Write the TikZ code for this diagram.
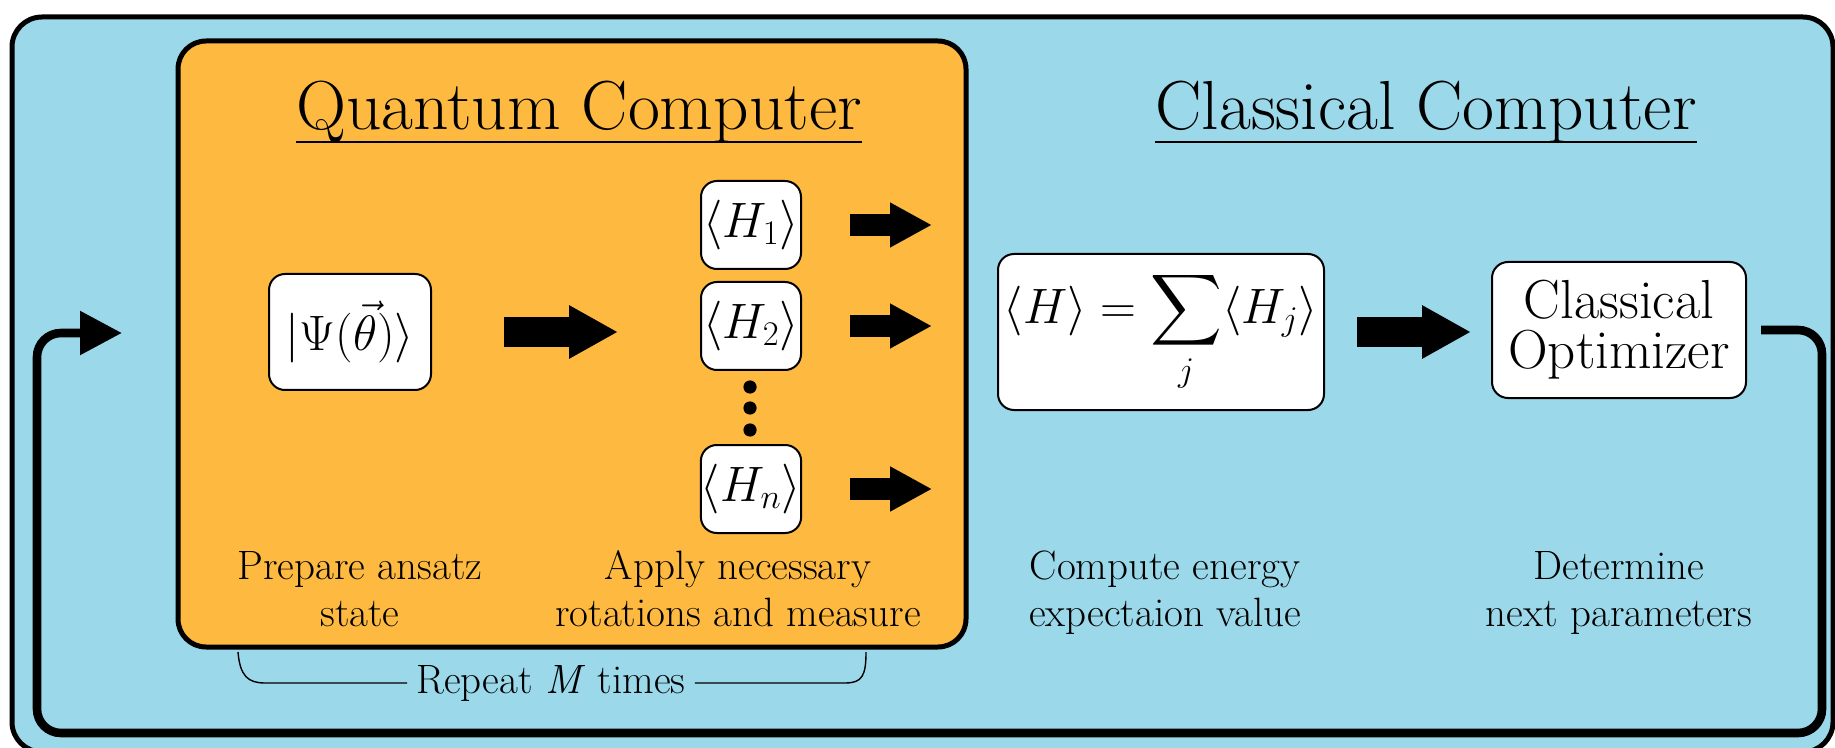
\documentclass[tikz,border=0pt]{standalone}
\usepackage{exscale}
\usetikzlibrary{arrows.meta}
\definecolor{skyb}{RGB}{155,216,233}
\definecolor{orng}{RGB}{253,185,64}
\begin{document}
\begin{tikzpicture}[x=0.5pt,y=-0.5pt,
  wbox/.style={draw=black, line width=1pt, fill=white, rounded corners=8pt, inner sep=0pt, align=center},
  bigarrow/.style={line width=15pt, -{Triangle[length=24.5pt,width=25pt]}},
  smallarrow/.style={line width=11pt, -{Triangle[length=21pt,width=21pt]}},
  loopline/.style={line width=4.3pt, rounded corners=12pt, -{Triangle[length=21pt,width=21pt]}},
  lbl/.style={inner sep=0pt, align=center, font=\fontsize{20.5}{23.5}\selectfont},
  ttl/.style={inner sep=0pt, anchor=base, font=\fontsize{34.7}{40}\selectfont},
  mth/.style={font=\fontsize{23}{27}\selectfont},
  ulinestyle/.style={line width=1.2pt},
  bracestyle/.style={line width=0.7pt}
]
\useasboundingbox (0,0) rectangle (1835,748);
% outer classical box
\draw[fill=skyb, line width=2.5pt, rounded corners=15pt] (12,17) rectangle (1833,752);
% quantum box
\draw[fill=orng, line width=2.5pt, rounded corners=14pt] (178,41) rectangle (966,647);

% titles
\node[ttl] (qc) at (579,130) {Quantum Computer};
\draw[ulinestyle] ([yshift=-6pt]qc.base west) -- ([yshift=-6pt]qc.base east);
\node[ttl] (cc) at (1426,130) {Classical Computer};
\draw[ulinestyle] ([yshift=-6pt]cc.base west) -- ([yshift=-6pt]cc.base east);

% boxes
\node[wbox, mth, minimum width=81pt, minimum height=58pt] (psi) at (350,332) {$|\Psi(\vec{\theta})\rangle$};
\node[wbox, mth, minimum width=50pt, minimum height=44pt] (h1) at (751,225) {$\langle H_1\rangle$};
\node[wbox, mth, minimum width=50pt, minimum height=44pt] (h2) at (751,326) {$\langle H_2\rangle$};
\node[wbox, mth, minimum width=50pt, minimum height=44pt] (hn) at (751,489) {$\langle H_n\rangle$};
\node[wbox, mth, minimum width=163pt, minimum height=78pt] (sum) at (1161,332) {$\displaystyle \langle H\rangle = \sum_j \langle H_j\rangle$};
\node[wbox, minimum width=127pt, minimum height=68pt, font=\fontsize{27.5}{25}\selectfont] (opt) at (1619,330) {Classical\\Optimizer};

% dots
\fill (750,387) circle[radius=3.3pt];
\fill (750,408) circle[radius=3.3pt];
\fill (750,430) circle[radius=3.3pt];

% arrows
\draw[bigarrow] ([xshift=36pt]psi.east) -- ++(114,0);
\draw[smallarrow] ([xshift=24pt]h1.east) -- ++(82,0);
\draw[smallarrow] ([xshift=24pt]h2.east) -- ++(82,0);
\draw[smallarrow] ([xshift=24pt]hn.east) -- ++(82,0);
\draw[bigarrow] ([xshift=16pt]sum.east) -- ++(114,0);

% feedback loop
\coordinate (loopend) at (122,333);
\draw[loopline] ([xshift=7pt]opt.east) -- (1822,330) -- (1822,733) -- (37,733) -- (37,333) -- (loopend);

% labels
\node[lbl] (l1) at (360,594) {\strut Prepare ansatz\\state\strut};
\node[lbl] (l2) at (738,594) {\strut Apply necessary\\rotations and measure\strut};
\node[lbl] (l3) at (1165,594) {\strut Compute energy\\expectaion value\strut};
\node[lbl] (l4) at (1619,594) {\strut Determine\\next parameters\strut};

% repeat brace
\node[lbl, inner xsep=4.5pt] (rep) at (551,683) {Repeat \textit{M} times};
\draw[bracestyle] (238,652) .. controls (240,676) and (248,683) .. (265,683) -- (rep.west);
\draw[bracestyle] (rep.east) -- (845,683) .. controls (862,683) and (866,676) .. (866,652);
\end{tikzpicture}
\end{document}
